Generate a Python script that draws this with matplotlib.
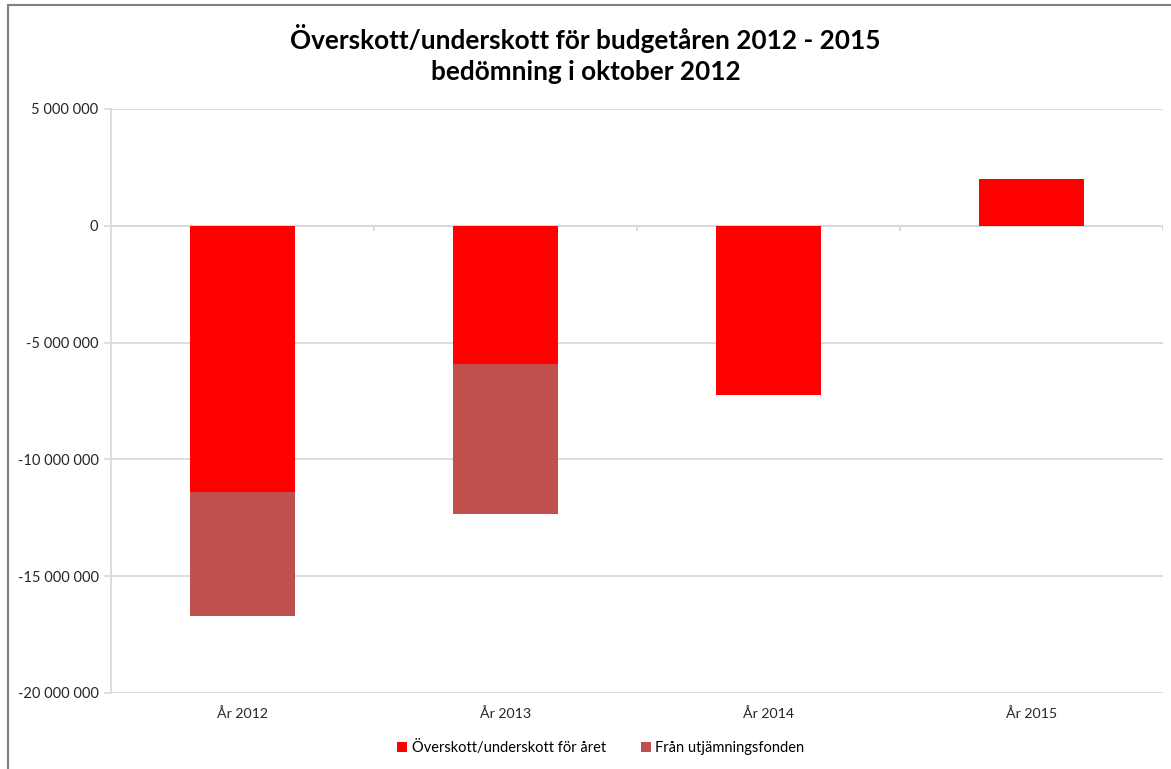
import matplotlib.pyplot as plt
import numpy as np
from matplotlib.patches import Rectangle
from matplotlib.ticker import FuncFormatter

plt.rcParams['font.family'] = ['Lato', 'DejaVu Sans']

# data
categories = ['År 2012', 'År 2013', 'År 2014', 'År 2015']
arets_resultat = [-11400000, -5900000, -7250000, 2000000]
fran_fonden = [-5300000, -6450000, 0, 0]
series_names = ['Överskott/underskott för året', 'Från utjämningsfonden']
y_ticks = [5000000, 0, -5000000, -10000000, -15000000, -20000000]

red = '#FF0000'
brown = '#C0504D'
grid_col = '#D9D9D9'

fig = plt.figure(figsize=(11.71, 7.69), dpi=100)
ax = fig.add_axes([111 / 1171, 76 / 769, (1163 - 111) / 1171, (693 - 109) / 769])

x = np.arange(len(categories))
ax.bar(x, arets_resultat, width=0.4, color=red, label=series_names[0], zorder=3)
ax.bar(x, fran_fonden, width=0.4, bottom=arets_resultat, color=brown,
       label=series_names[1], zorder=3)

ax.set_xlim(-0.5, len(categories) - 0.5)
ax.set_ylim(min(y_ticks), max(y_ticks))
ax.set_yticks(y_ticks)
ax.yaxis.set_major_formatter(FuncFormatter(lambda v, p: f'{int(v):,}'.replace(',', ' ')))
ax.grid(axis='y', color=grid_col, linewidth=1.3, zorder=0)
ax.set_xticks(x)
ax.set_xticklabels(categories)
ax.tick_params(axis='x', length=0, pad=10, labelsize=10.2, colors='#262626')
ax.tick_params(axis='y', length=5, width=1.2, color=grid_col, labelsize=10.5,
               labelcolor='#262626', pad=4)

for s in ['top', 'right', 'bottom']:
    ax.spines[s].set_visible(False)
ax.spines['left'].set_color(grid_col)
ax.spines['left'].set_linewidth(1.3)

# category axis crossing at zero, with ticks between categories
ax.axhline(0, color=grid_col, linewidth=1.5, zorder=2)
tick_len = (max(y_ticks) - min(y_ticks)) / 584 * 5
ax.vlines(x + 0.5, -tick_len, 0, color=grid_col, linewidth=1.3, zorder=2)

fig.text(0.5, 0.950, 'Överskott/underskott för budgetåren 2012 - 2015',
         ha='center', va='center', fontsize=18.8, fontweight='bold')
fig.text(0.5, 0.906, 'bedömning i oktober 2012',
         ha='center', va='center', fontsize=18.8, fontweight='bold')

fig.legend(loc='center', bbox_to_anchor=(0.513, 0.028), ncol=2, frameon=False,
           fontsize=10.5, handlelength=0.7, handleheight=0.7, handletextpad=0.3,
           columnspacing=2.4)

# chart area border (cropped at right and bottom)
fig.patches.append(Rectangle((8 / 1171, -0.1), 1.2, 1.1 - 5 / 769,
                             transform=fig.transFigure, fill=False,
                             edgecolor='#808080', linewidth=1.5))

fig.savefig('out.png', dpi=100)
